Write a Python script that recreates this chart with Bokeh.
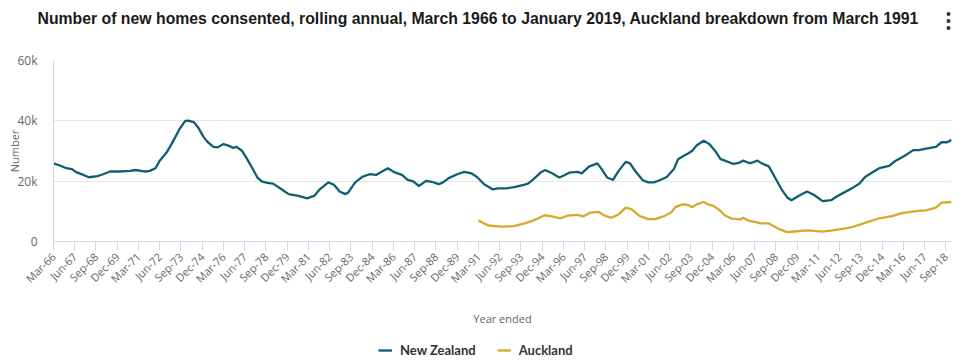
import math
from bokeh.plotting import figure
from bokeh.layouts import column
from bokeh.models import Range1d, FixedTicker, Legend, LegendItem
from bokeh.core.properties import value
from bokeh.embed import file_html
from bokeh.resources import INLINE

TITLE = ("Number of new homes consented, rolling annual, March 1966 to January 2019, "
         "Auckland breakdown from March 1991")

# month offsets from Mar-1966 (0) to Jan-2019 (634)
nz_month = [0, 5, 9, 13, 16, 21, 25, 31, 35, 40, 47, 54, 58, 65, 68, 72, 75, 80, 82, 86, 89, 93, 95,
            99, 102, 106, 109, 113, 116, 120, 124, 127, 129, 133, 136, 140, 144, 147, 151, 155,
            161, 166, 173, 179, 184, 188, 194, 198, 202, 206, 208, 213, 218, 223, 228, 232, 236,
            241, 246, 250, 254, 258, 263, 267, 272, 275, 279, 285, 290, 295, 299, 304, 310, 314,
            320, 326, 332, 335, 339, 344, 347, 352, 357, 360, 364, 370, 373, 378, 384, 387, 391,
            395, 399, 404, 407, 411, 416, 420, 424, 428, 433, 438, 441, 445, 448, 451, 454, 459,
            463, 467, 471, 474, 480, 484, 487, 491, 493, 497, 500, 505, 510, 514, 518, 521, 526,
            532, 537, 543, 549, 553, 558, 564, 569, 573, 578, 583, 590, 594, 601, 607, 611, 616,
            623, 627, 631, 634]
nz_value = [25.9, 25.1, 24.3, 24.0, 23.0, 22.1, 21.3, 21.7, 22.3, 23.2, 23.2, 23.4, 23.7, 23.2, 23.4,
            24.3, 26.8, 29.6, 31.2, 34.6, 37.3, 40.0, 40.1, 39.6, 37.9, 34.6, 32.9, 31.4, 31.2,
            32.3, 31.7, 31.0, 31.4, 30.1, 27.9, 24.6, 21.2, 19.9, 19.4, 19.2,
            17.3, 15.7, 15.1, 14.3, 15.1, 17.3, 19.6, 18.8, 16.6, 15.7, 16.2, 19.6, 21.4, 22.3,
            22.1, 23.2, 24.3, 22.9, 22.1, 20.4, 19.9, 18.4, 20.1, 19.8, 19.0, 19.6, 21.0, 22.3,
            23.1, 22.6, 21.4, 19.0, 17.3, 17.6,
            17.6, 18.1, 18.8, 19.2, 20.7, 22.9, 23.7, 22.6, 21.2, 21.8, 22.8, 23.1, 22.6, 24.8,
            25.9, 24.0, 21.2, 20.4, 23.4, 26.4, 25.9, 23.2, 20.3, 19.6, 19.6, 20.3, 21.4, 24.0,
            27.3, 28.4, 29.2, 30.1, 31.8, 33.4, 32.3, 30.1, 27.3, 26.8,
            25.7, 26.1, 26.8, 26.0, 26.1, 26.8, 25.9, 24.9, 20.7, 17.3, 14.6, 13.7, 15.1, 16.6,
            15.4, 13.4, 13.7, 14.9, 16.2, 17.7, 19.2, 21.4, 22.9, 24.3, 25.1, 26.6, 28.4, 30.3,
            30.3, 30.8, 31.4, 32.9, 32.9, 33.7]

akl_month = [300, 304, 307, 316, 325, 332, 339, 347, 352, 358, 363, 370, 374, 379, 385, 390, 394,
             399, 404, 408, 414, 420, 425, 431, 436, 439, 444, 448, 451, 454, 459, 463, 466, 471,
             474, 479, 485, 487, 491, 496, 499, 505, 512, 518, 525, 532, 543, 550, 557, 564, 573,
             583, 592, 599, 609, 616, 623, 627, 634]
akl_value = [7.0, 6.0, 5.3, 4.9, 5.1, 5.9, 7.0, 8.7, 8.3, 7.7, 8.6, 8.8, 8.3, 9.6, 9.8, 8.4, 7.9,
             9.0, 11.2, 10.7, 8.4, 7.4, 7.4, 8.4, 9.6, 11.4, 12.3, 12.1, 11.4, 12.3, 13.1, 12.1,
             11.8, 10.1, 8.6, 7.6, 7.3, 7.9, 6.8, 6.4, 6.0, 6.0, 4.2, 3.1, 3.4, 3.7, 3.3, 3.7,
             4.2, 4.8, 6.2, 7.7, 8.4, 9.4, 10.1, 10.3, 11.2, 12.9, 13.1]

tick_labels = ["Mar-66", "Jun-67", "Sep-68", "Dec-69", "Mar-71", "Jun-72", "Sep-73", "Dec-74",
               "Mar-76", "Jun-77", "Sep-78", "Dec-79", "Mar-81", "Jun-82", "Sep-83", "Dec-84",
               "Mar-86", "Jun-87", "Sep-88", "Dec-89", "Mar-91", "Jun-92", "Sep-93", "Dec-94",
               "Mar-96", "Jun-97", "Sep-98", "Dec-99", "Mar-01", "Jun-02", "Sep-03", "Dec-04",
               "Mar-06", "Jun-07", "Sep-08", "Dec-09", "Mar-11", "Jun-12", "Sep-13", "Dec-14",
               "Mar-16", "Jun-17", "Sep-18"]
tick_step = 15
y_ticks = [0, 20000, 40000, 60000]
y_tick_labels = ["0", "20k", "40k", "60k"]
series_names = ["New Zealand", "Auckland"]

NZ_COLOR = "#0f5e74"
AKL_COLOR = "#d5aa2d"
AXIS_COLOR = "#ccd6eb"
TEXT_GRAY = "#666666"
W = 971

nz_y = [v * 1000 for v in nz_value]
akl_y = [v * 1000 for v in akl_value]

# ---------- header (title + menu icon) ----------
head = figure(width=W, height=48, output_backend="svg", toolbar_location=None, title=None,
              x_range=Range1d(0, W), y_range=Range1d(48, 0),
              x_axis_location=None, y_axis_location=None, min_border=0)
head.frame_align = False
head.outline_line_color = None
head.grid.visible = False
head.text(x=[37], y=[17.5], text=[TITLE], text_font=value("Liberation Sans"),
          text_font_size="15.8px", text_font_style="bold", text_color="#1a1a1a",
          text_align="left", text_baseline="middle")
head.scatter(x=[948, 948, 948], y=[13.5, 20.5, 27.5], marker="circle", size=4,
             fill_color="#333333", line_color=None)

# ---------- main chart ----------
p = figure(width=W, height=292, output_backend="svg", toolbar_location=None, title=None,
           x_range=Range1d(0, 634), y_range=Range1d(0, 60000),
           min_border_left=53, min_border_right=20, min_border_top=12, min_border_bottom=99)
p.frame_align = False
p.outline_line_color = None
p.xgrid.visible = False
p.ygrid.grid_line_color = "#e6e6e6"
p.ygrid.ticker = FixedTicker(ticks=y_ticks)

p.line(nz_month, nz_y, line_color=NZ_COLOR, line_width=2.3)
p.line(akl_month, akl_y, line_color=AKL_COLOR, line_width=2.3)

xa = p.xaxis[0]
x_ticks = [i * tick_step for i in range(len(tick_labels))]
xa.ticker = FixedTicker(ticks=x_ticks)
xa.major_label_overrides = {t: lab for t, lab in zip(x_ticks, tick_labels)}
xa.major_label_orientation = math.pi / 4
xa.major_label_text_font = "Open Sans"
xa.major_label_text_font_size = "11px"
xa.major_label_text_color = TEXT_GRAY
xa.major_label_standoff = 4
xa.major_tick_out = 9
xa.major_tick_in = 0
xa.minor_tick_out = 0
xa.minor_tick_in = 0
xa.major_tick_line_color = AXIS_COLOR
xa.axis_line_color = AXIS_COLOR
xa.axis_label = "Year ended"
xa.axis_label_text_font = "Open Sans"
xa.axis_label_text_font_size = "11px"
xa.axis_label_text_font_style = "normal"
xa.axis_label_text_color = TEXT_GRAY
xa.axis_label_standoff = 17

ya = p.yaxis[0]
ya.ticker = FixedTicker(ticks=y_ticks)
ya.major_label_overrides = {t: lab for t, lab in zip(y_ticks, y_tick_labels)}
ya.major_label_text_font = "Open Sans"
ya.major_label_text_font_size = "12px"
ya.major_label_text_color = TEXT_GRAY
ya.major_label_standoff = 16
ya.major_tick_out = 0
ya.major_tick_in = 0
ya.minor_tick_out = 0
ya.minor_tick_in = 0
ya.axis_line_color = AXIS_COLOR
ya.axis_label = "Number"
ya.axis_label_text_font = "Open Sans"
ya.axis_label_text_font_size = "11px"
ya.axis_label_text_font_style = "normal"
ya.axis_label_text_color = TEXT_GRAY
ya.axis_label_standoff = -8

# ---------- legend strip ----------
leg = figure(width=W, height=23, output_backend="svg", toolbar_location=None, title=None,
             x_range=Range1d(0, 1), y_range=Range1d(-2, -1),
             x_axis_location=None, y_axis_location=None, min_border=0)
leg.frame_align = False
leg.outline_line_color = None
leg.grid.visible = False
d_nz = leg.line(nz_month, nz_y, line_color=NZ_COLOR, line_width=2.3)
d_akl = leg.line(akl_month, akl_y, line_color=AKL_COLOR, line_width=2.3)
legend = Legend(items=[LegendItem(label=series_names[0], renderers=[d_nz]),
                       LegendItem(label=series_names[1], renderers=[d_akl])],
                orientation="horizontal", location=(378, 5),
                label_text_font="Lato", label_text_font_size="13px",
                label_text_font_style="bold", label_text_color="#333333",
                glyph_width=14, glyph_height=14, label_height=14, label_standoff=8,
                spacing=21, padding=0, margin=0,
                border_line_color=None, background_fill_alpha=0)
leg.add_layout(legend, "center")

page = column(head, p, leg, spacing=0)
open("out.html", "w").write(file_html(page, INLINE))
